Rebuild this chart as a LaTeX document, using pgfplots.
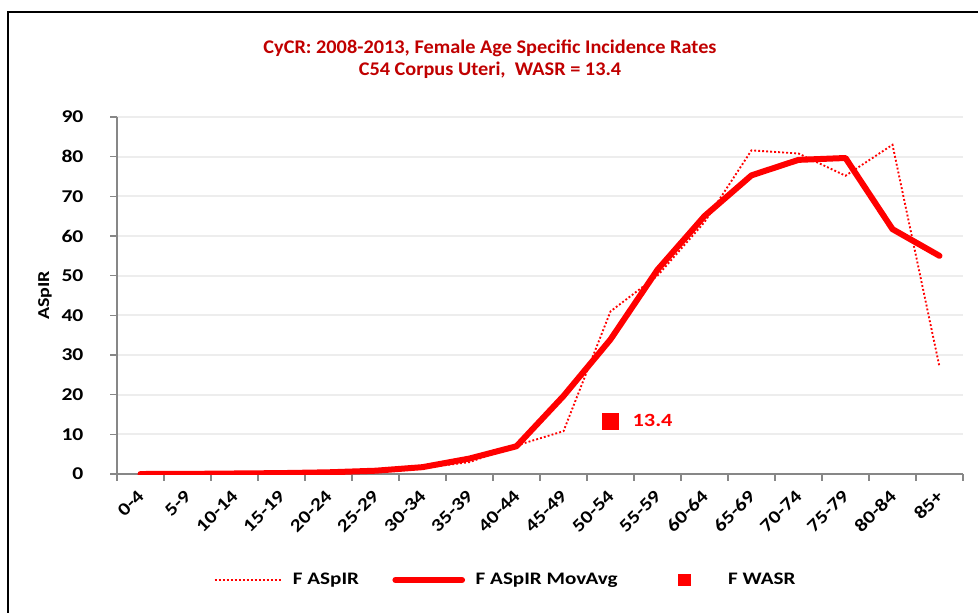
\documentclass[border=0pt]{standalone}
\usepackage{fontspec}
\setmainfont{Carlito}[FakeStretch=1.2]
\newfontfamily\titlefont{Carlito}[FakeStretch=1.05]
\usepackage{pgfplots}
\pgfplotsset{compat=1.18}
\definecolor{titlered}{HTML}{C00000}
\definecolor{axgray}{HTML}{878787}
\definecolor{gridgray}{HTML}{EDEDED}
\begin{document}
\begin{tikzpicture}
\useasboundingbox (0,0) rectangle (733.5pt,-459pt);
\draw[black, line width=1.5pt] (6pt,-470pt) -- (6pt,-9pt) -- (740pt,-9pt);
\node[align=center, text=titlered, font=\titlefont\fontsize{14.5}{16.5}\selectfont\bfseries] at (367.5pt,-44.5pt)
  {CyCR: 2008-2013, Female Age Specific Incidence Rates\\C54 Corpus Uteri,\ \ WASR = 13.4};
\begin{axis}[
  at={(87.75pt,-355.5pt)}, anchor=south west, scale only axis,
  width=634.5pt, height=267.75pt,
  xmin=-0.5, xmax=17.5, ymin=0, ymax=90,
  axis x line*=bottom, axis y line*=left,
  axis line style={axgray, line width=1.5pt, -},
  ytick={0,10,...,90}, ymajorgrids,
  grid style={gridgray, line width=1.5pt},
  xtick={-0.5,0.5,...,17.5}, xticklabels={},
  extra x ticks={0,1,...,17},
  extra x tick labels={0-4,5-9,10-14,15-19,20-24,25-29,30-34,35-39,40-44,45-49,50-54,55-59,60-64,65-69,70-74,75-79,80-84,85+},
  extra x tick style={major tick length=0pt, grid=none},
  tick align=outside, major tick length=5pt,
  tick style={axgray, line width=1.2pt},
  /pgf/number format/assume math mode=true,
  ticklabel style={font=\fontsize{13.5}{15}\selectfont\bfseries},
  yticklabel style={anchor=east, inner sep=0pt},
  yticklabel shift=20pt,
  xticklabel style={xshift=-3pt, yshift=-11pt, rotate=45, anchor=north east, inner sep=0pt},
  ylabel={ASpIR},
  ylabel style={at={(axis description cs:-0.0851,0.5)}, anchor=center, font=\fontsize{12.5}{15}\selectfont\bfseries},
  legend image code/.code={\draw[#1] (0pt,0pt) -- (50pt,0pt);},
  legend style={draw=none, at={(axis description cs:0.4598,-0.2969)}, anchor=center,
    legend columns=3, font=\fontsize{13.2}{15}\selectfont\bfseries,
    /tikz/every odd column/.append style={column sep=6pt},
    /tikz/every even column/.append style={column sep=23pt}},
]
\addplot[red, line width=1.4pt, dash pattern=on 1.4pt off 1.6pt] coordinates {
(0,0) (1,0) (2,0.1) (3,0.3) (4,0.3) (5,0.7) (6,1.5) (7,3.0) (8,7.2) (9,10.8)
(10,41.0) (11,50.0) (12,63.5) (13,81.6) (14,80.8) (15,75.2) (16,83.0) (17,27.0)};
\addlegendentry{F ASpIR}
\addplot[red, line width=4.5pt, line cap=round, line join=round] coordinates {
(0,0) (1,0.03) (2,0.13) (3,0.23) (4,0.43) (5,0.83) (6,1.73) (7,3.9) (8,7.0) (9,19.67)
(10,33.93) (11,51.5) (12,65.03) (13,75.3) (14,79.2) (15,79.67) (16,61.73) (17,55.0)};
\addlegendentry{F ASpIR MovAvg}
\addplot[red, only marks, mark=square*, mark size=6pt,
  nodes near coords, every node near coord/.append style={anchor=west, xshift=13pt, text=red, font=\fontsize{14}{15}\selectfont\bfseries},
  legend image code/.code={\path[draw=none, fill=none] (0pt,0pt) -- (50pt,0pt);\draw[red, mark=square*, mark size=4.3pt, only marks] plot coordinates {(25pt,0pt)};}]
  coordinates {(10,13.4)};
\addlegendentry{F WASR}
\end{axis}
\end{tikzpicture}
\end{document}
